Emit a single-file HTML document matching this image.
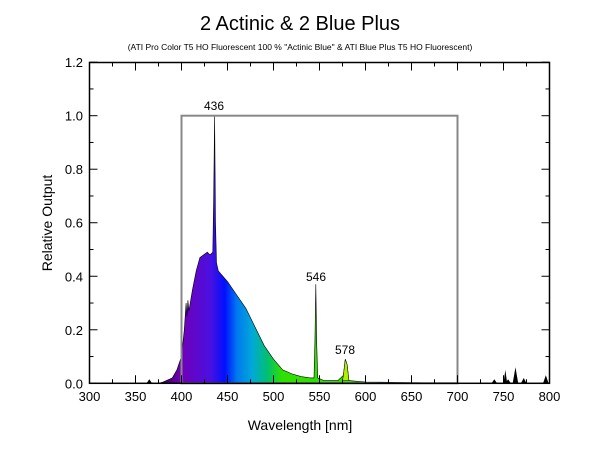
<!DOCTYPE html>
<html><head><style>body{margin:0;background:#fff}svg{display:block}</style></head><body>
<svg width="600" height="450" xmlns="http://www.w3.org/2000/svg" font-family="Liberation Sans, Arial, sans-serif">
<defs>
<linearGradient id="g" gradientUnits="userSpaceOnUse" x1="163" y1="0" x2="282" y2="0">
<stop offset="0" stop-color="#3a0060"/>
<stop offset="0.15" stop-color="#7000b8"/>
<stop offset="0.4" stop-color="#4a10e0"/>
<stop offset="0.52" stop-color="#0010ff"/>
<stop offset="0.62" stop-color="#0078f0"/>
<stop offset="0.75" stop-color="#00a8d8"/>
<stop offset="0.88" stop-color="#00c070"/>
<stop offset="1" stop-color="#30e000"/>
</linearGradient>
</defs>
<text x="300" y="30" font-size="20" text-anchor="middle">2 Actinic &amp; 2 Blue Plus</text>
<text x="300" y="50" font-size="8.5" text-anchor="middle">(ATI Pro Color T5 HO Fluorescent 100 % "Actinic Blue" &amp; ATI Blue Plus T5 HO Fluorescent)</text>
<g id="spec"></g>
<rect x="181.5" y="115.7" width="276" height="267.6" fill="none" stroke="#888" stroke-width="2"/>
<rect x="89.5" y="62.5" width="460" height="320.8" fill="none" stroke="#000" stroke-width="1.5"/>
<g id="ticks" stroke="#000"></g>
<g font-size="13" text-anchor="middle" id="xl"></g>
<g font-size="13" text-anchor="end" id="yl"></g>
<text x="300" y="430" font-size="14" text-anchor="middle">Wavelength [nm]</text>
<text transform="translate(52,223) rotate(-90)" font-size="14" text-anchor="middle">Relative Output</text>
<text x="214" y="110" font-size="12" text-anchor="middle">436</text>
<text x="316" y="281" font-size="12" text-anchor="middle">546</text>
<text x="345" y="354" font-size="12" text-anchor="middle">578</text>
</svg>
<script>
const X=n=>89.5+0.92*(n-300),Y=v=>383.3-267.6*v;
const pts=[[375,0],[380,0.005],[390,0.02],[395,0.05],[400,0.1],[403,0.2],[405,0.3],[406,0.25],[407,0.31],[408,0.27],[412,0.35],[416,0.42],[420,0.47],[424,0.48],[428,0.49],[431,0.48],[434,0.49],[435,0.7],[436,1.0],[437,0.6],[438,0.45],[440,0.42],[450,0.38],[460,0.33],[470,0.28],[480,0.21],[490,0.14],[500,0.09],[510,0.05],[520,0.035],[530,0.025],[540,0.02],[544,0.02],[545,0.15],[546,0.37],[547,0.15],[548,0.02],[555,0.01],[570,0.01],[576,0.03],[578,0.09],[580,0.07],[582,0.01],[600,0.005],[700,0]];
const ns="http://www.w3.org/2000/svg";
const mk=(t,a,p)=>{const e=document.createElementNS(ns,t);for(const k in a)e.setAttribute(k,a[k]);p.appendChild(e);return e};
const sp=document.getElementById('spec');
mk('path',{d:'M'+pts.map(p=>X(p[0]).toFixed(1)+','+Y(p[1]).toFixed(1)).join('L')+'Z',fill:'url(#g)',stroke:'#000','stroke-width':0.6},sp);
// yellow tint for 578
mk('path',{d:`M${X(575)},${Y(0.01)}L${X(576)},${Y(0.03)}L${X(578)},${Y(0.09)}L${X(580)},${Y(0.07)}L${X(582)},${Y(0.01)}Z`,fill:'#b0f000',stroke:'#000','stroke-width':0.5},sp);
[[365,0.015,3],[740,0.015,3],[752,0.05,2],[755,0.015,3],[763,0.06,3],[772,0.02,3],[796,0.03,3]].forEach(([n,v,w])=>mk('path',{d:`M${X(n-w)},${Y(0)}L${X(n)},${Y(v)}L${X(n+w)},${Y(0)}Z`,fill:'#000'},sp));
const tk=document.getElementById('ticks');
for(let n=300;n<=800;n+=25){const L=n%50?4:8,x=X(n);mk('line',{x1:x,x2:x,y1:383.3,y2:383.3-L},tk);mk('line',{x1:x,x2:x,y1:62.5,y2:62.5+L},tk);}
for(let i=0;i<=12;i++){const L=i%2?4:8,y=Y(i/10);mk('line',{x1:89.5,x2:89.5+L,y1:y,y2:y},tk);mk('line',{x1:549.5,x2:549.5-L,y1:y,y2:y},tk);}
const xl=document.getElementById('xl');
for(let n=300;n<=800;n+=50){mk('text',{x:X(n),y:401},xl).textContent=n;}
const yl=document.getElementById('yl');
for(let i=0;i<=6;i++){mk('text',{x:83,y:Y(i*0.2)+5},yl).textContent=(i*0.2).toFixed(1);}
</script>
</body></html>
